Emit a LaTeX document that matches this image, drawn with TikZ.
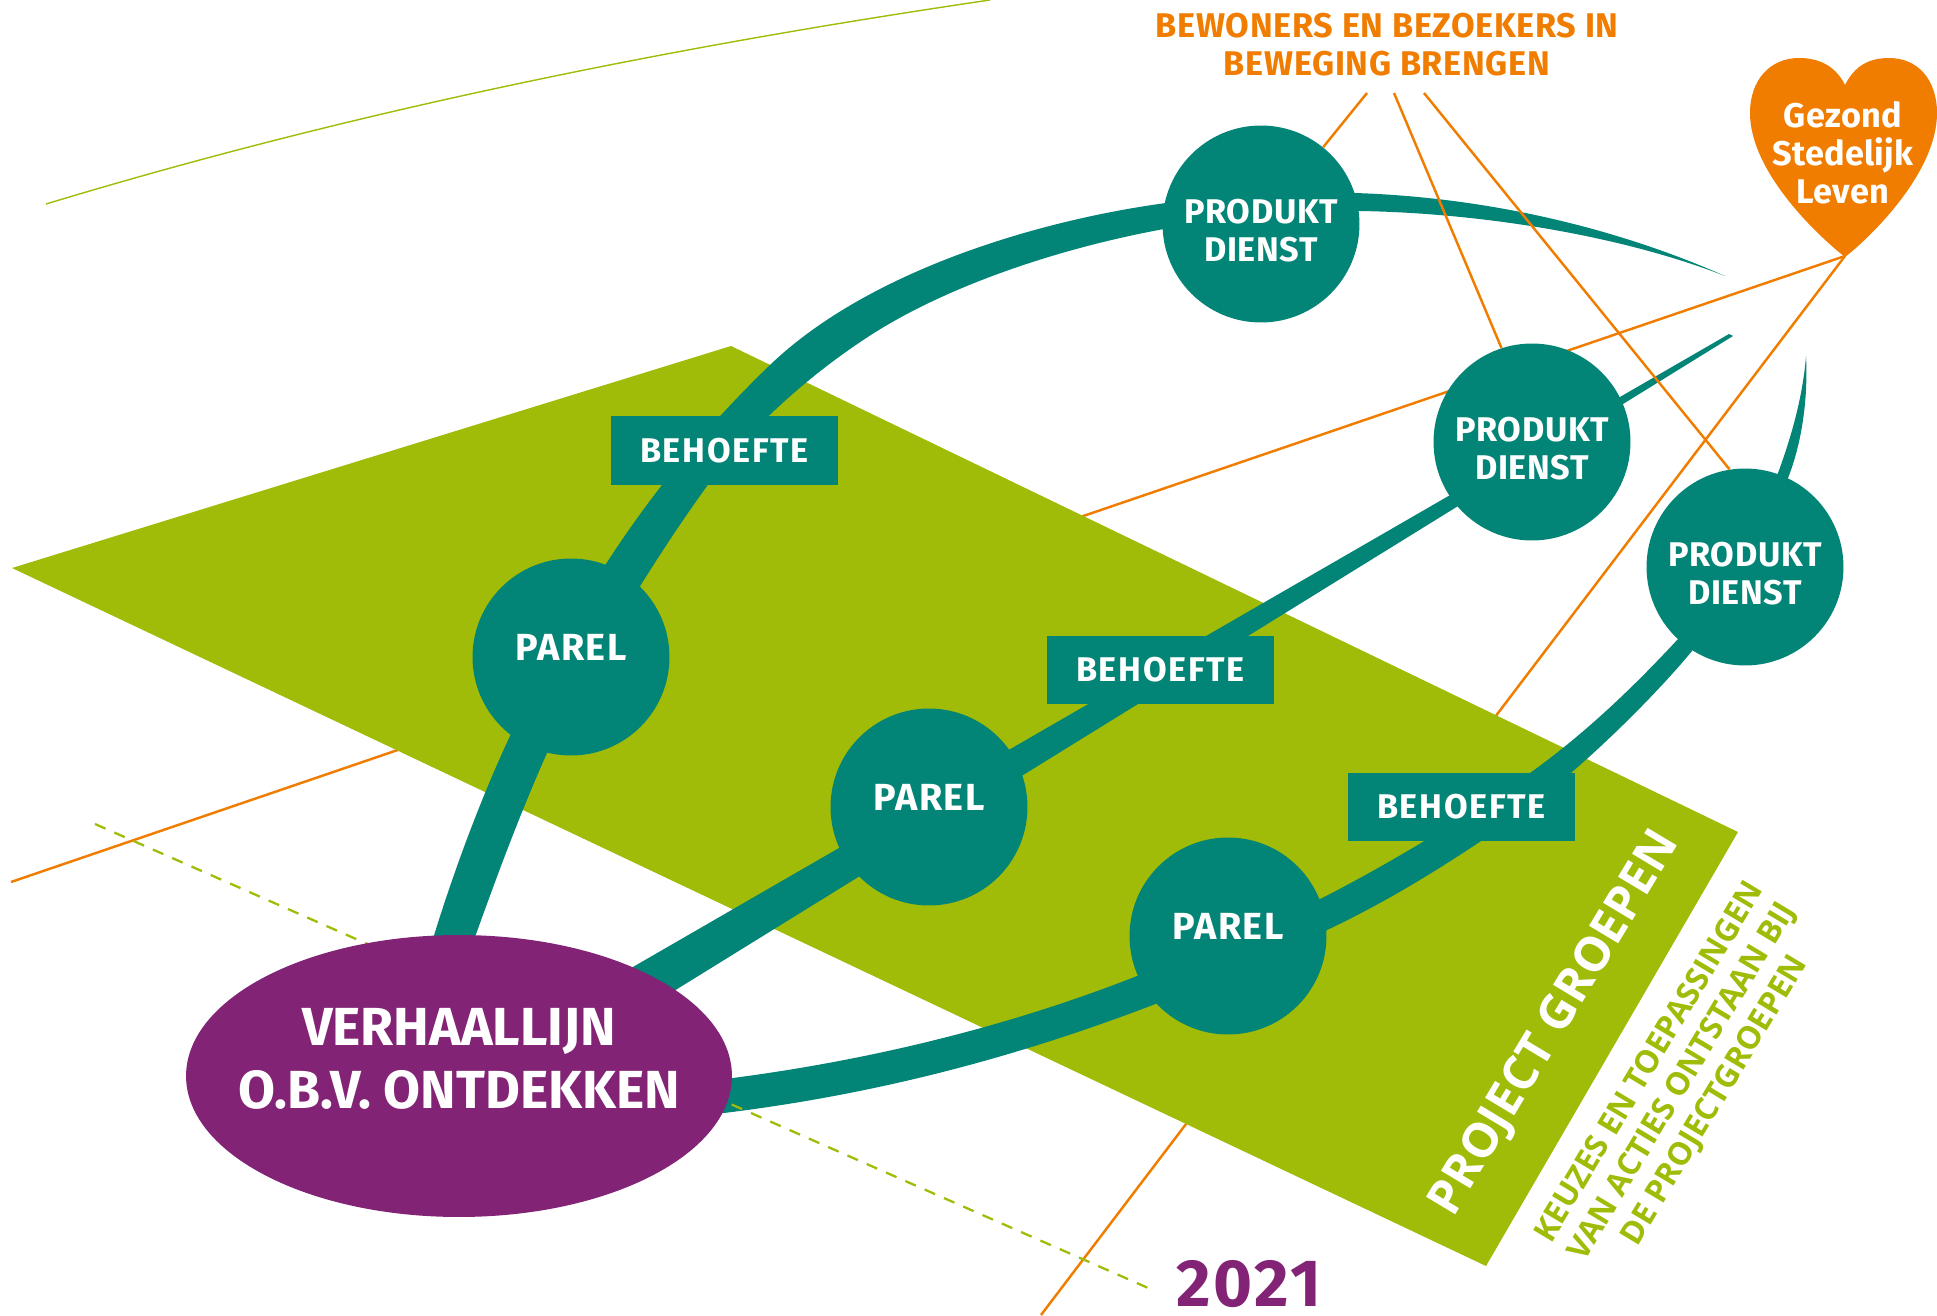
\documentclass[tikz,border=0pt]{standalone}
\usepackage{fontspec}
\setmainfont{Fira Sans}
\newfontfamily\opensans{Open Sans}
\usetikzlibrary{shapes.geometric, backgrounds}

\definecolor{tealband}{RGB}{2,132,118}
\definecolor{limevlak}{RGB}{160,188,8}
\definecolor{paars}{RGB}{131,35,117}
\definecolor{oranje}{RGB}{240,125,0}

\newcommand{\letter}[2]{\fontsize{#1}{21.6}\selectfont\bfseries\addfontfeature{LetterSpace=#2}}

\begin{document}
\begin{tikzpicture}[
    x=0.02cm, y=-0.02cm,
    lijn/.style={color=oranje, line width=1.4pt},
    streep/.style={color=limevlak, line width=1.3pt, dash pattern=on 6.5pt off 5.5pt},
    band/.style={fill=tealband},
    bol/.style={circle, fill=tealband, text=white, minimum size=3.94cm, inner sep=0pt, align=center},
    parel/.style={bol, text depth=11.4pt, font=\letter{21.5}{4}},
    produkt/.style={bol, text height=43pt, font=\letter{19.5}{2}},
    behoefte/.style={rectangle, fill=tealband, text=white, minimum width=4.54cm, minimum height=1.37cm,
        inner sep=0pt, font=\letter{19.5}{5}},
    kop/.style={align=center, inner sep=0pt}
]

    \path[use as bounding box] (0,0) rectangle (1937,1315);

    % === Knooppunten ===
    \node[ellipse, fill=paars, minimum width=10.92cm, minimum height=5.64cm, inner sep=0pt] (verhaal) at (459,1076) {};
    \node[kop, text=white, font=\fontsize{30.5}{36}\selectfont\bfseries] (verhaal tekst) at (459,1059) {VERHAALLIJN\\O.B.V. ONTDEKKEN};

    \node[parel] (parel a) at (571,657) {PAREL};
    \node[parel] (parel b) at (929,807) {PAREL};
    \node[parel] (parel c) at (1228,936) {PAREL};

    \node[produkt] (produkt a) at (1261,224) {PRODUKT\\DIENST};
    \node[produkt] (produkt b) at (1532,442) {PRODUKT\\DIENST};
    \node[produkt] (produkt c) at (1745,567) {PRODUKT\\DIENST};

    \node[behoefte] (behoefte a) at (724.5,450.5) {BEHOEFTE};
    \node[behoefte] (behoefte b) at (1160.5,670) {BEHOEFTE};
    \node[behoefte] (behoefte c) at (1461.5,807) {BEHOEFTE};

    % === Hart ===
    \fill[oranje] (1845,85) .. controls (1835,65) and (1818,58) .. (1799,58)
        .. controls (1770,58) and (1750,80) .. (1750,113)
        .. controls (1750,172) and (1818,236) .. (1845,257)
        .. controls (1872,236) and (1937,172) .. (1937,113)
        .. controls (1937,80) and (1918,58) .. (1889,58)
        .. controls (1870,58) and (1855,65) .. (1845,85) -- cycle;
    \node[align=center, text=white, font=\letter{19.5}{1}] (hart) at (1843,153) {Gezond\\Stedelijk\\Leven};
    \coordinate (hart tip) at (1845,256);

    % === Achterlaag ===
    \begin{scope}[on background layer]
        \coordinate (lijn west) at (11,882);
        \coordinate (lijn zuid) at (1041,1315);
        \draw[lijn] (lijn west) -- (hart tip);
        \draw[lijn] (lijn zuid) -- (hart tip);

        % Vlak
        \fill[limevlak] (731,346) -- (1738,832) -- (1486,1266) -- (12,568) -- cycle;

        % Dunne boog
        \draw[color=limevlak, line width=0.8pt] (46,204) .. controls (340,115) and (650,50) .. (990,0);

        % Banden
        \fill[band] (425,965) .. controls (450,880) and (480,800) .. (510,736)
            .. controls (570,615) and (640,490) .. (771,364)
            .. controls (870,270) and (1040,220) .. (1166,203)
            .. controls (1220,195) and (1300,192) .. (1355,193)
            .. controls (1480,197) and (1610,225) .. (1725,276)
            .. controls (1620,235) and (1480,213) .. (1360,211)
            .. controls (1290,211) and (1225,218) .. (1164,229)
            .. controls (1060,248) and (950,285) .. (874,333)
            .. controls (800,380) and (740,440) .. (707,486)
            .. controls (650,565) and (590,665) .. (547,753)
            .. controls (515,825) and (490,895) .. (465,965) -- cycle;

        \fill[band] (600,986) -- (1729,334) -- (1733,336) -- (640,1012) -- cycle;

        \fill[band] (700,1082) .. controls (850,1065) and (1000,1030) .. (1137,976)
            .. controls (1260,935) and (1380,875) .. (1530,773)
            .. controls (1590,730) and (1640,680) .. (1678,639)
            -- (1778,473) .. controls (1792,435) and (1803,395) .. (1806,356)
            .. controls (1808,395) and (1803,440) .. (1788,478)
            -- (1692,651) .. controls (1660,690) and (1570,785) .. (1478,843)
            .. controls (1430,875) and (1380,905) .. (1327,930)
            .. controls (1270,960) and (1215,982) .. (1158,1003)
            .. controls (1010,1060) and (870,1095) .. (724,1113) -- (700,1115) -- cycle;

        % Stippellijn
        \coordinate (streep noord) at (95,824);
        \coordinate (streep zuid) at (1155,1291);
        \draw[streep] (streep noord) -- (streep zuid);
    \end{scope}

    % === Lijnen vanuit de kop ===
    \coordinate (kop a) at (1367,93);
    \coordinate (kop b) at (1394,93);
    \coordinate (kop c) at (1424,93);
    \draw[lijn] (kop a) -- (produkt a);
    \draw[lijn] (kop b) -- (produkt b.108);
    \draw[lijn] (kop c) -- (produkt c.99);

    % === Teksten ===
    \node[kop, text=oranje, font=\letter{19.5}{2}] (bewoners) at (1387,45) {BEWONERS EN BEZOEKERS IN\\BEWEGING BRENGEN};
    \node[inner sep=0pt, text=paars, font=\letter{38}{4}] (jaar) at (1249,1284) {2021};
    \node[rotate=59, inner sep=0pt, text=white, font=\opensans\fontsize{27.2}{30}\selectfont\bfseries] (project) at (1556,1024) {PROJECT GROEPEN};
    \node[rotate=59, kop, text=limevlak, font=\opensans\fontsize{18}{21.5}\selectfont\bfseries] (keuzes) at (1683,1082) {KEUZES EN TOEPASSINGEN\\VAN ACTIES ONTSTAAN BIJ\\DE PROJECTGROEPEN};

\end{tikzpicture}
\end{document}
